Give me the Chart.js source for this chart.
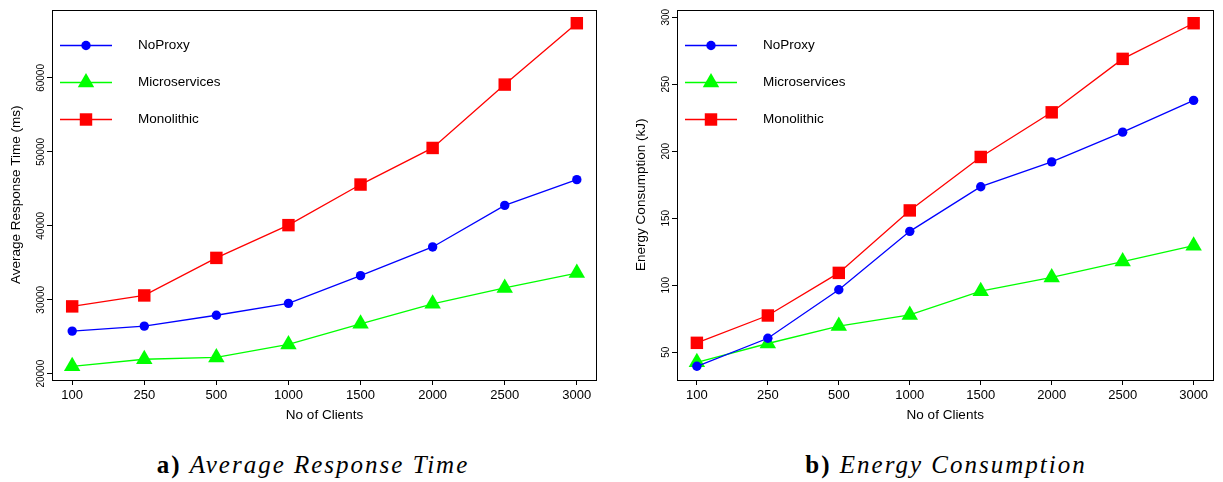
<!DOCTYPE html>
<html>
<head>
<meta charset="utf-8">
<script src="https://cdn.jsdelivr.net/npm/chart.js@4.4.1/dist/chart.umd.min.js"></script>
<style>
  html, body { margin: 0; padding: 0; background: #fff; }
  body { width: 1223px; height: 482px; position: relative; overflow: hidden; }
  .panel { position: absolute; top: 0; height: 430px; }
  #rtWrap { left: 0; width: 612px; }
  #ecWrap { left: 612px; width: 611px; }
  .caption {
    position: absolute; top: 453px; line-height: 23px;
    font-family: "Liberation Serif", "DejaVu Serif", serif; font-size: 25px; letter-spacing: 2px;
    white-space: nowrap; transform: translateX(-50%); color: #000;
  }
  .caption i { font-style: italic; }
</style>
</head>
<body>
<div class="panel" id="rtWrap"><canvas id="rtChart" width="612" height="430"></canvas></div>
<div class="panel" id="ecWrap"><canvas id="ecChart" width="611" height="430"></canvas></div>
<div class="caption" style="left:313px"><b>a)</b> <i>Average Response Time</i></div>
<div class="caption" style="left:946px"><b>b)</b> <i>Energy Consumption</i></div>

<script>
// ---- DATA ----
const clients = ['100', '250', '500', '1000', '1500', '2000', '2500', '3000'];
const seriesNames = ['NoProxy', 'Microservices', 'Monolithic'];

// Average response time (ms)
const rtNoProxy = [25760, 26430, 27900, 29510, 33260, 37140, 42760, 46240];
const rtMicro   = [21000, 21950, 22200, 23950, 26750, 29450, 31600, 33600];
const rtMono    = [29100, 30580, 35660, 40090, 45580, 50530, 59100, 67400];
const rtTicks   = [20000, 30000, 40000, 50000, 60000];

// Energy consumption (kJ)
const ecNoProxy = [39.5, 60.4, 96.6, 140.2, 173.5, 192, 214.2, 237.9];
const ecMicro   = [42.5, 56.5, 69.5, 77.8, 95.5, 105.8, 117.6, 129.5];
const ecMono    = [57, 77.4, 109.2, 155.8, 195.7, 229.0, 268.9, 295.5];
const ecTicks   = [50, 100, 150, 200, 250, 300];

const FONT = '"Liberation Sans", Arial, Helvetica, sans-serif';
const styles = [
  { color: '#0000ff', pointStyle: 'circle', radius: 4.7 },
  { color: '#00ff00', pointStyle: 'triangle', radius: 9.5 },
  { color: '#ff0000', pointStyle: 'rect', radius: 8.8 },
];

// R-style 4% axis extension
function extend(vals) {
  const lo = Math.min(...vals), hi = Math.max(...vals);
  const pad = (hi - lo) * 0.04;
  return { min: lo - pad, max: hi + pad };
}

// ---- axis text, frame and legend drawn R-style ----
const rStyle = {
  id: 'rStyle',
  beforeDatasetsDraw(chart) {
    const { ctx, chartArea: a } = chart;
    ctx.save();
    ctx.strokeStyle = '#000';
    ctx.lineWidth = 1;
    ctx.strokeRect(Math.round(a.left) + 0.5, Math.round(a.top) + 0.5,
      Math.round(a.right - a.left) - 1, Math.round(a.bottom - a.top) - 1);
    ctx.restore();
  },
  afterDraw(chart, args, opts) {
    const { ctx, chartArea: a } = chart;
    const y = chart.scales.y;
    ctx.save();
    ctx.fillStyle = '#000';
    ctx.textAlign = 'center';
    ctx.textBaseline = 'alphabetic';

    // rotated y tick labels
    ctx.font = '10px ' + FONT;
    y.ticks.forEach(t => {
      ctx.save();
      ctx.translate(a.left - 8, y.getPixelForValue(t.value));
      ctx.rotate(-Math.PI / 2);
      ctx.fillText(String(t.value), 0, 0);
      ctx.restore();
    });

    // y title
    ctx.font = '13.5px ' + FONT;
    ctx.save();
    ctx.translate(a.left - 32.5, (a.top + a.bottom) / 2);
    ctx.rotate(-Math.PI / 2);
    ctx.fillText(opts.yTitle, 0, 0);
    ctx.restore();

    // x title
    ctx.fillText('No of Clients', (a.left + a.right) / 2, 419);

    // legend
    chart.data.datasets.forEach((ds, i) => {
      const ly = a.top + 36 + i * 37;
      ctx.strokeStyle = ds.borderColor;
      ctx.fillStyle = ds.borderColor;
      ctx.lineWidth = 1.3;
      ctx.beginPath();
      ctx.moveTo(a.left + 8, ly);
      ctx.lineTo(a.left + 60, ly);
      ctx.stroke();
      Chart.helpers.drawPoint(ctx, {
        pointStyle: ds.pointStyle, radius: ds.pointRadius, rotation: 0, borderWidth: 0
      }, a.left + 34, ly);
      ctx.fillStyle = '#000';
      ctx.textAlign = 'left';
      ctx.textBaseline = 'middle';
      ctx.font = '13.5px ' + FONT;
      ctx.fillText(ds.label, a.left + 86, ly);
    });
    ctx.restore();
  }
};

function makeChart(id, series, yTicks, yTitle, area) {
  const canvas = document.getElementById(id);
  const W = canvas.width, H = canvas.height;
  const ext = extend(series.flat());

  const datasets = series.map((vals, i) => ({
    label: seriesNames[i],
    data: vals.map((v, k) => ({ x: k + 1, y: v })),
    borderColor: styles[i].color,
    backgroundColor: styles[i].color,
    borderWidth: 1.3,
    pointStyle: styles[i].pointStyle,
    pointRadius: styles[i].radius,
    pointBorderWidth: 0,
    pointHoverRadius: styles[i].radius,
    tension: 0,
    clip: false,
  }));

  return new Chart(canvas, {
    type: 'line',
    data: { datasets },
    plugins: [rStyle],
    options: {
      responsive: false,
      animation: false,
      devicePixelRatio: 1,
      layout: { padding: { top: area.top, left: 0, right: W - area.right, bottom: 0 } },
      plugins: {
        legend: { display: false },
        tooltip: { enabled: false },
        rStyle: { yTitle },
      },
      scales: {
        x: {
          type: 'linear',
          min: 1 - 0.04 * (clients.length - 1),
          max: clients.length + 0.04 * (clients.length - 1),
          afterBuildTicks: s => { s.ticks = clients.map((c, k) => ({ value: k + 1 })); },
          afterFit: s => { s.height = H - area.bottom; },
          grid: { drawOnChartArea: false, drawTicks: true, tickLength: 5, color: '#000', lineWidth: 1 },
          border: { display: false },
          ticks: {
            autoSkip: false, maxRotation: 0, padding: 3,
            color: '#000', font: { family: FONT, size: 13 },
            callback: v => clients[Math.round(v) - 1],
          },
        },
        y: {
          type: 'linear',
          min: ext.min,
          max: ext.max,
          afterBuildTicks: s => { s.ticks = yTicks.map(v => ({ value: v })); },
          afterFit: s => { s.width = area.left; },
          grid: { drawOnChartArea: false, drawTicks: true, tickLength: 5, color: '#000', lineWidth: 1 },
          border: { display: false },
          ticks: { display: false },
        },
      },
    },
  });
}

makeChart('rtChart', [rtNoProxy, rtMicro, rtMono], rtTicks, 'Average Response Time (ms)',
  { left: 52, top: 8, right: 597, bottom: 380 });
makeChart('ecChart', [ecNoProxy, ecMicro, ecMono], ecTicks, 'Energy Consumption (kJ)',
  { left: 65, top: 8, right: 610, bottom: 380 });
</script>
</body>
</html>
